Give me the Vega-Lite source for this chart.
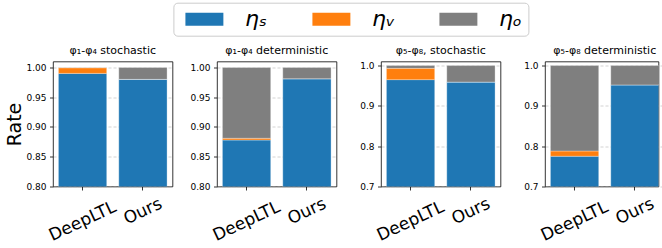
{
  "$schema": "https://vega.github.io/schema/vega-lite/v6.json",
  "background": "white",
  "padding": {"left": 4, "top": 1.5, "right": 0, "bottom": 0},
  "bounds": "flush",
  "spacing": 44,
  "data": {"values": [
    {"panel": "A", "method": "DeepLTL", "type": "ηₛ", "k": 1, "value": 0.990},
    {"panel": "A", "method": "DeepLTL", "type": "ηᵥ", "k": 2, "value": 0.0095},
    {"panel": "A", "method": "DeepLTL", "type": "ηₒ", "k": 3, "value": 0.0005},
    {"panel": "A", "method": "Ours", "type": "ηₛ", "k": 1, "value": 0.980},
    {"panel": "A", "method": "Ours", "type": "ηᵥ", "k": 2, "value": 0.0},
    {"panel": "A", "method": "Ours", "type": "ηₒ", "k": 3, "value": 0.020},
    {"panel": "B", "method": "DeepLTL", "type": "ηₛ", "k": 1, "value": 0.878},
    {"panel": "B", "method": "DeepLTL", "type": "ηᵥ", "k": 2, "value": 0.003},
    {"panel": "B", "method": "DeepLTL", "type": "ηₒ", "k": 3, "value": 0.119},
    {"panel": "B", "method": "Ours", "type": "ηₛ", "k": 1, "value": 0.981},
    {"panel": "B", "method": "Ours", "type": "ηᵥ", "k": 2, "value": 0.0},
    {"panel": "B", "method": "Ours", "type": "ηₒ", "k": 3, "value": 0.019},
    {"panel": "C", "method": "DeepLTL", "type": "ηₛ", "k": 1, "value": 0.965},
    {"panel": "C", "method": "DeepLTL", "type": "ηᵥ", "k": 2, "value": 0.028},
    {"panel": "C", "method": "DeepLTL", "type": "ηₒ", "k": 3, "value": 0.007},
    {"panel": "C", "method": "Ours", "type": "ηₛ", "k": 1, "value": 0.959},
    {"panel": "C", "method": "Ours", "type": "ηᵥ", "k": 2, "value": 0.0},
    {"panel": "C", "method": "Ours", "type": "ηₒ", "k": 3, "value": 0.041},
    {"panel": "D", "method": "DeepLTL", "type": "ηₛ", "k": 1, "value": 0.775},
    {"panel": "D", "method": "DeepLTL", "type": "ηᵥ", "k": 2, "value": 0.013},
    {"panel": "D", "method": "DeepLTL", "type": "ηₒ", "k": 3, "value": 0.212},
    {"panel": "D", "method": "Ours", "type": "ηₛ", "k": 1, "value": 0.952},
    {"panel": "D", "method": "Ours", "type": "ηᵥ", "k": 2, "value": 0.0},
    {"panel": "D", "method": "Ours", "type": "ηₒ", "k": 3, "value": 0.048}
  ]},
  "hconcat": [
    {
      "title": "φ₁-φ₄ stochastic",
      "width": 119.5, "height": 125,
      "transform": [{"filter": "datum.panel == 'A'"}],
      "mark": {"type": "bar", "clip": true, "stroke": "white", "strokeWidth": 0.6, "strokeOpacity": 0.5},
      "encoding": {
        "x": {"field": "method", "type": "nominal", "sort": ["DeepLTL", "Ours"], "scale": {"paddingInner": 0.2, "paddingOuter": 0.09}, "axis": {"title": null}},
        "y": {"field": "value", "type": "quantitative", "stack": "zero", "scale": {"domain": [0.8, 1.01], "nice": false, "zero": false}, "axis": {"values": [0.8, 0.85, 0.9, 0.95, 1.0], "format": ".2f", "title": "Rate"}},
        "color": {"field": "type", "type": "nominal", "scale": {"domain": ["ηₛ", "ηᵥ", "ηₒ"], "range": ["#1f77b4", "#ff7f0e", "#7f7f7f"]}, "legend": {"orient": "none", "legendX": 120.4, "legendY": -58.8, "direction": "horizontal", "title": null}},
        "order": {"field": "k", "type": "quantitative"}
      }
    },
    {
      "title": "φ₁-φ₄ deterministic",
      "width": 119.5, "height": 125,
      "transform": [{"filter": "datum.panel == 'B'"}],
      "mark": {"type": "bar", "clip": true, "stroke": "white", "strokeWidth": 0.6, "strokeOpacity": 0.5},
      "encoding": {
        "x": {"field": "method", "type": "nominal", "sort": ["DeepLTL", "Ours"], "scale": {"paddingInner": 0.2, "paddingOuter": 0.09}, "axis": {"title": null}},
        "y": {"field": "value", "type": "quantitative", "stack": "zero", "scale": {"domain": [0.8, 1.01], "nice": false, "zero": false}, "axis": {"values": [0.8, 0.85, 0.9, 0.95, 1.0], "format": ".2f", "title": null}},
        "color": {"field": "type", "type": "nominal", "scale": {"domain": ["ηₛ", "ηᵥ", "ηₒ"], "range": ["#1f77b4", "#ff7f0e", "#7f7f7f"]}, "legend": {"orient": "none", "legendX": 120.4, "legendY": -58.8, "direction": "horizontal", "title": null}},
        "order": {"field": "k", "type": "quantitative"}
      }
    },
    {
      "title": "φ₅-φ₈, stochastic",
      "width": 119.5, "height": 125,
      "transform": [{"filter": "datum.panel == 'C'"}],
      "mark": {"type": "bar", "clip": true, "stroke": "white", "strokeWidth": 0.6, "strokeOpacity": 0.5},
      "encoding": {
        "x": {"field": "method", "type": "nominal", "sort": ["DeepLTL", "Ours"], "scale": {"paddingInner": 0.2, "paddingOuter": 0.09}, "axis": {"title": null}},
        "y": {"field": "value", "type": "quantitative", "stack": "zero", "scale": {"domain": [0.7, 1.01], "nice": false, "zero": false}, "axis": {"values": [0.7, 0.8, 0.9, 1.0], "format": ".1f", "title": null}},
        "color": {"field": "type", "type": "nominal", "scale": {"domain": ["ηₛ", "ηᵥ", "ηₒ"], "range": ["#1f77b4", "#ff7f0e", "#7f7f7f"]}, "legend": {"orient": "none", "legendX": 120.4, "legendY": -58.8, "direction": "horizontal", "title": null}},
        "order": {"field": "k", "type": "quantitative"}
      }
    },
    {
      "title": {"text": "φ₅-φ₈ deterministic", "dx": 3},
      "width": 113.5, "height": 125,
      "transform": [{"filter": "datum.panel == 'D'"}],
      "mark": {"type": "bar", "clip": true, "stroke": "white", "strokeWidth": 0.6, "strokeOpacity": 0.5},
      "encoding": {
        "x": {"field": "method", "type": "nominal", "sort": ["DeepLTL", "Ours"], "scale": {"paddingInner": 0.2, "paddingOuter": 0.09, "range": [0, 119.5]}, "axis": {"title": null}},
        "y": {"field": "value", "type": "quantitative", "stack": "zero", "scale": {"domain": [0.7, 1.01], "nice": false, "zero": false}, "axis": {"values": [0.7, 0.8, 0.9, 1.0], "format": ".1f", "title": null}},
        "color": {"field": "type", "type": "nominal", "scale": {"domain": ["ηₛ", "ηᵥ", "ηₒ"], "range": ["#1f77b4", "#ff7f0e", "#7f7f7f"]}, "legend": {"orient": "none", "legendX": 120.4, "legendY": -58.8, "direction": "horizontal", "title": null}},
        "order": {"field": "k", "type": "quantitative"}
      }
    }
  ],
  "config": {
    "font": "DejaVu Sans",
    "view": {"stroke": "black", "strokeWidth": 0.8},
    "title": {"fontSize": 11, "fontWeight": "normal", "color": "black", "font": "DejaVu Sans", "offset": 6, "baseline": "alphabetic"},
    "axis": {
      "domain": false,
      "tickColor": "black", "tickWidth": 0.8, "tickSize": 3.5,
      "labelColor": "black", "labelFont": "DejaVu Sans",
      "titleColor": "black", "titleFont": "DejaVu Sans", "titleFontWeight": "normal"
    },
    "axisY": {
      "labelFontSize": 9, "labelPadding": 3.5,
      "minExtent": 27, "maxExtent": 27,
      "titleFontSize": 19, "titlePadding": 2,
      "grid": true, "gridColor": "#b0b0b0", "gridDash": [3, 2], "gridWidth": 0.8, "gridOpacity": 0.7,
      "zindex": 1
    },
    "axisX": {
      "grid": false,
      "labelFontSize": 17, "labelAngle": -25, "labelAlign": "center", "labelBaseline": "middle",
      "labelPadding": {"condition": {"test": "datum.label == 'Ours'", "value": 21}, "value": 31},
      "zindex": 1
    },
    "legend": {
      "symbolType": "M-0.69,-1H5.15V1H-0.69Z",
      "symbolSize": 169,
      "symbolStrokeWidth": 0,
      "symbolOpacity": 1,
      "labelFontSize": 22,
      "labelFontStyle": "italic",
      "labelFont": "DejaVu Sans",
      "labelColor": "black",
      "labelOffset": 44,
      "columnPadding": 37,
      "gridAlign": "all",
      "padding": 5.5,
      "strokeColor": "#cccccc",
      "fillColor": "white",
      "cornerRadius": 4
    }
  }
}
